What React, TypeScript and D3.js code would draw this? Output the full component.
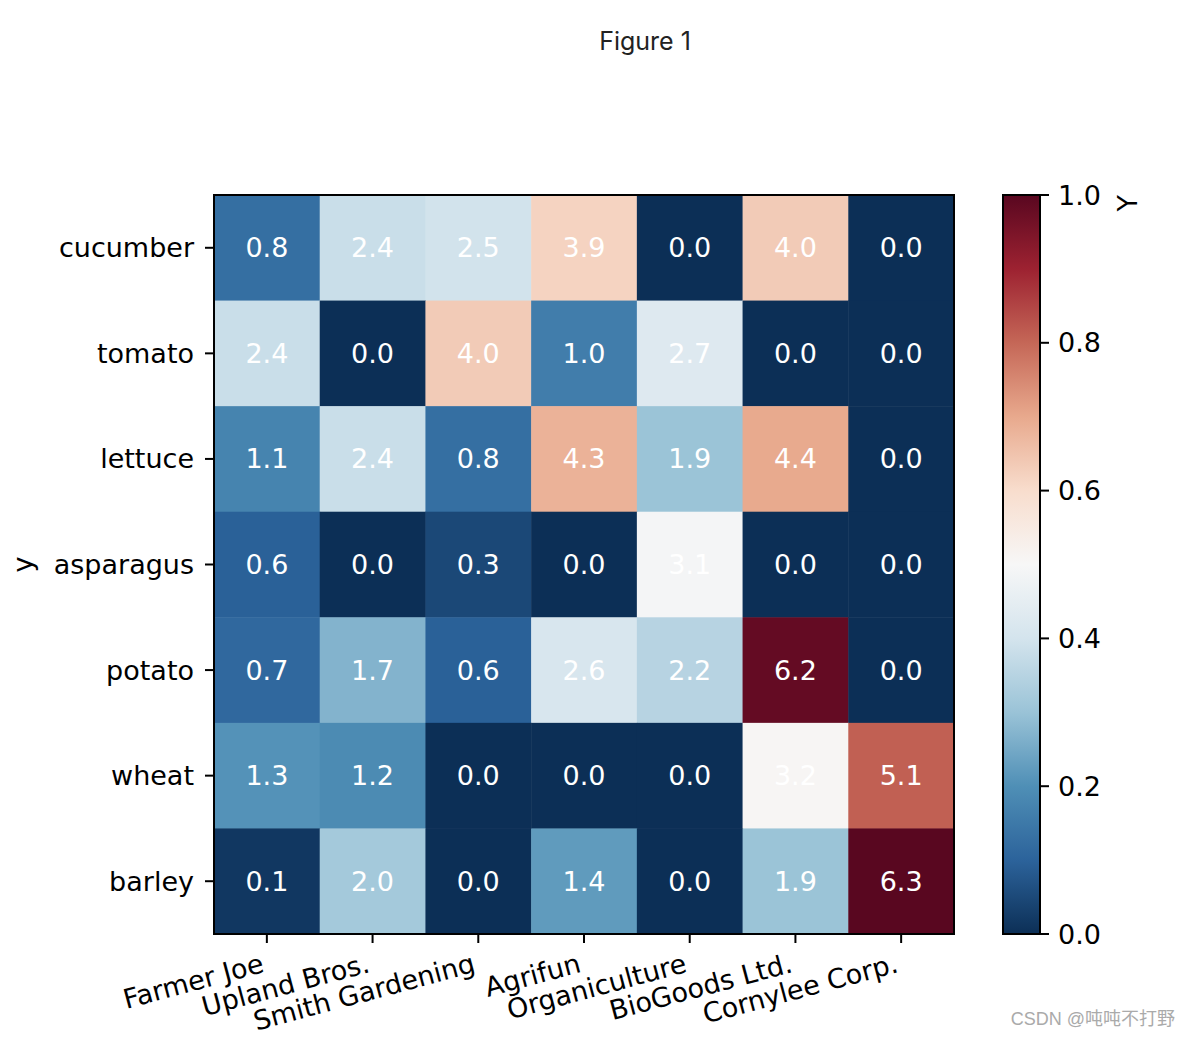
import React from "react";
import * as d3 from "d3";

const vegetables = ["cucumber", "tomato", "lettuce", "asparagus", "potato", "wheat", "barley"];
const farmers = ["Farmer Joe", "Upland Bros.", "Smith Gardening", "Agrifun", "Organiculture", "BioGoods Ltd.", "Cornylee Corp."];
const harvest = [
  [0.8, 2.4, 2.5, 3.9, 0.0, 4.0, 0.0],
  [2.4, 0.0, 4.0, 1.0, 2.7, 0.0, 0.0],
  [1.1, 2.4, 0.8, 4.3, 1.9, 4.4, 0.0],
  [0.6, 0.0, 0.3, 0.0, 3.1, 0.0, 0.0],
  [0.7, 1.7, 0.6, 2.6, 2.2, 6.2, 0.0],
  [1.3, 1.2, 0.0, 0.0, 0.0, 3.2, 5.1],
  [0.1, 2.0, 0.0, 1.4, 0.0, 1.9, 6.3],
];
const cbarTicks = [0, 0.2, 0.4, 0.6, 0.8, 1.0];
const rdbuR = ["#053061", "#2166ac", "#4393c3", "#92c5de", "#d1e5f0", "#f7f7f7", "#fddbc7", "#f4a582", "#d6604d", "#b2182b", "#67001f"];

function desat(col: string, k = 0.2): string {
  const c = d3.rgb(col);
  const l = 0.299 * c.r + 0.587 * c.g + 0.114 * c.b;
  return d3.rgb(c.r + k * (l - c.r), c.g + k * (l - c.g), c.b + k * (l - c.b)).formatHex();
}

export default function App() {
  const W = 1190, H = 1038;
  const left = 214, right = 954, top = 195, bottom = 934;
  const fs = 27;
  const tick = 9, pad = 9;
  const font = "DejaVu Sans, sans-serif";

  const stops = rdbuR.map((c) => desat(c));
  const x = d3.scaleBand<string>().domain(farmers).range([left, right]);
  const y = d3.scaleBand<string>().domain(vegetables).range([top, bottom]);
  const maxV = d3.max(harvest.flat()) as number;
  const cmap = d3.scaleLinear<string>()
    .domain(d3.range(stops.length).map((i) => i / (stops.length - 1)))
    .range(stops)
    .interpolate(d3.interpolateRgb)
    .clamp(true);

  const cbL = 1003, cbR = 1040;
  const cy = d3.scaleLinear().domain([0, 1]).range([bottom, top]);

  const theta = (15 * Math.PI) / 180;
  const s = Math.sin(theta), c = Math.cos(theta);
  const hText = 0.99 * fs, dText = 0.236 * fs;
  const yTop = bottom + tick + pad;

  return (
    <div style={{ position: "absolute", left: 0, top: 0 }}>
      <svg width={W} height={H} xmlns="http://www.w3.org/2000/svg" style={{ display: "block", background: "#fff" }}>
        <rect x={0} y={0} width={W} height={H} fill="#fff" />
        <text x={645} y={41} textAnchor="middle" dominantBaseline="central" fontFamily="Inter, Roboto, sans-serif" fontSize={25} fill="#222">Figure 1</text>

        {harvest.map((row, i) =>
          row.map((v, j) => (
            <g key={`${i}-${j}`}>
              <rect x={x(farmers[j])} y={y(vegetables[i])} width={x.bandwidth() + 0.5} height={y.bandwidth() + 0.5} fill={cmap(v / maxV)} />
              <text x={(x(farmers[j]) as number) + x.bandwidth() / 2} y={(y(vegetables[i]) as number) + y.bandwidth() / 2} textAnchor="middle" dominantBaseline="central" fontFamily={font} fontSize={fs} fill="#fff">{v.toFixed(1)}</text>
            </g>
          ))
        )}
        <rect x={left} y={top} width={right - left} height={bottom - top} fill="none" stroke="#000" strokeWidth={2} />

        {vegetables.map((v) => {
          const yy = (y(v) as number) + y.bandwidth() / 2;
          return (
            <g key={v}>
              <line x1={left - tick} x2={left} y1={yy} y2={yy} stroke="#000" strokeWidth={2} />
              <text x={left - tick - pad - 2} y={yy} textAnchor="end" dominantBaseline="central" fontFamily={font} fontSize={fs} fill="#000">{v}</text>
            </g>
          );
        })}

        {farmers.map((f) => {
          const xx = (x(f) as number) + x.bandwidth() / 2;
          const bx = xx - dText * s;
          const by = yTop + hText * c - dText * c;
          return (
            <g key={f}>
              <line x1={xx} x2={xx} y1={bottom} y2={bottom + tick} stroke="#000" strokeWidth={2} />
              <text transform={`translate(${bx},${by}) rotate(-15)`} textAnchor="end" fontFamily={font} fontSize={fs} fill="#000">{f}</text>
            </g>
          );
        })}

        <text transform={`translate(32,${(top + bottom) / 2}) rotate(-90)`} textAnchor="middle" fontFamily={font} fontSize={fs} fill="#000">y</text>

        <defs>
          <linearGradient id="cbar" x1="0" y1="1" x2="0" y2="0">
            {stops.map((col, i) => (
              <stop key={i} offset={i / (stops.length - 1)} stopColor={col} />
            ))}
          </linearGradient>
        </defs>
        <rect x={cbL} y={top} width={cbR - cbL} height={bottom - top} fill="url(#cbar)" stroke="#000" strokeWidth={2} />
        {cbarTicks.map((t) => (
          <g key={t}>
            <line x1={cbR} x2={cbR + tick} y1={cy(t)} y2={cy(t)} stroke="#000" strokeWidth={2} />
            <text x={cbR + tick + pad} y={cy(t)} dominantBaseline="central" fontFamily={font} fontSize={fs} fill="#000">{t.toFixed(1)}</text>
          </g>
        ))}
        <text transform={`translate(1137,${top}) rotate(-90)`} textAnchor="end" fontFamily={font} fontSize={fs} fill="#000">Y</text>

        <text x={1175} y={1025} textAnchor="end" fontFamily="Liberation Sans, Noto Sans CJK SC, sans-serif" fontSize={18} fill="#aaa">CSDN @吨吨不打野</text>
      </svg>
    </div>
  );
}
